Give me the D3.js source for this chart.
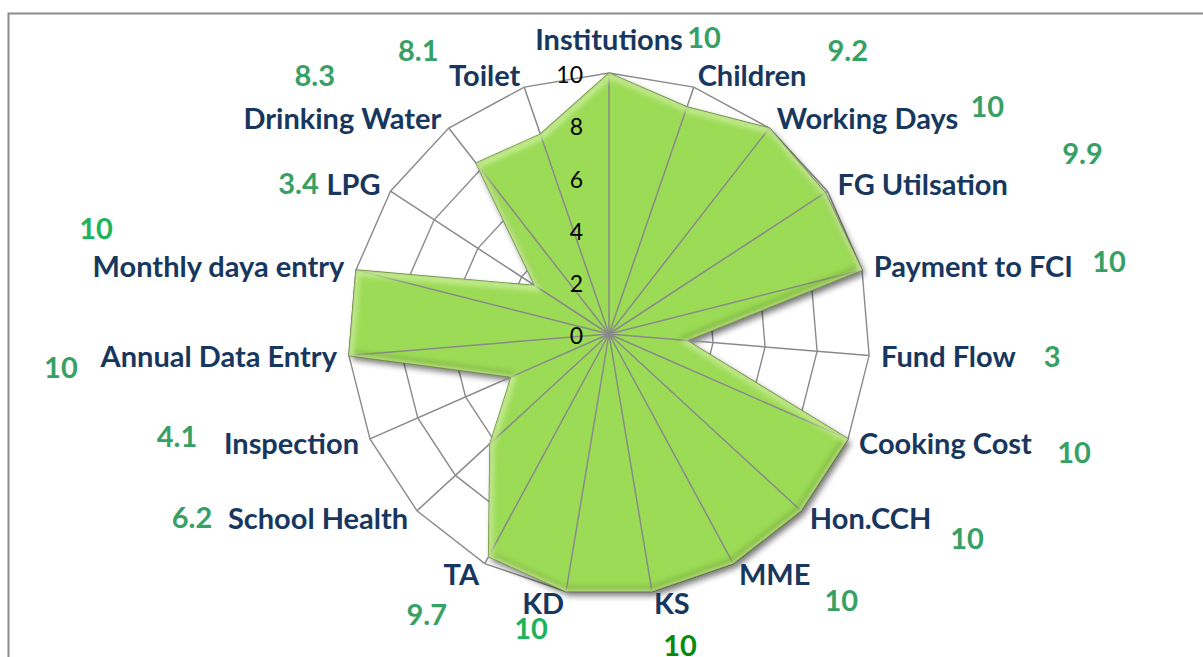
<!DOCTYPE html>
<html>
  <head>
    <meta charset="utf-8">
    <title>Radar</title>
    <script src="https://cdn.jsdelivr.net/npm/d3@7/dist/d3.min.js" charset="utf-8"></script>
    <style>
    body {margin:0; background:#fff;}
    svg text {font-family: Lato, "Open Sans", sans-serif;}
    </style>
  </head>
  <body>
    <svg id="svg1" width="1203" height="657"></svg>
    <script>
    // data
    var categories = ['Institutions', 'Children', 'Working Days', 'FG Utilsation', 'Payment to FCI',
      'Fund Flow', 'Cooking Cost', 'Hon.CCH', 'MME', 'KS', 'KD', 'TA', 'School Health',
      'Inspection', 'Annual Data Entry', 'Monthly daya entry', 'LPG', 'Drinking Water', 'Toilet'];
    var scores = [10, 9.2, 10, 9.9, 10, 3, 10, 10, 10, 10, 10, 9.7, 6.2, 4.1, 10, 10, 3.4, 8.3, 8.1];
    var tickValues = [0, 2, 4, 6, 8, 10];

    // where the value labels were dragged to (offset from the outer end of each axis)
    var valueLabelShift = [[95, -35], [154, -37], [218, -21], [255, -38], [247, -8], [183, 1], [226, 14],
      [166, 28], [108, 37], [28, 54], [-35, 37], [-58, 51], [-225, 7], [-193, -2], [-288, 12],
      [-260, -41], [-92, -8], [-134, -52], [-106, -37]];
    var valueLabelColor = ['#36a065', '#36a065', '#36a065', '#36a065', '#36a065', '#36a065', '#36a065',
      '#36a065', '#36a065', '#0a8a0a', '#1cb45a', '#36a065', '#36a065', '#36a065', '#36a065',
      '#1cb45a', '#36a065', '#36a065', '#36a065'];

    var svg = d3.select('#svg1');

    // frame
    svg.append('rect')
      .attr('x', 8.5).attr('y', 13.5)
      .attr('width', 1300).attr('height', 800)
      .attr('fill', 'none').attr('stroke', '#8c8c8c').attr('stroke-width', 2);

    var cx = 609, cy = 334, R = 261;
    var g = svg.append('g').attr('transform', 'translate(' + cx + ',' + cy + ')');

    var r = d3.scaleLinear().domain([0, 10]).range([0, R]);
    var angle = d3.scalePoint().domain(categories).range([0, 2 * Math.PI * (1 - 1 / categories.length)]);

    function pt(cat, v) {
      var a = angle(cat);
      return [r(v) * Math.sin(a), -r(v) * Math.cos(a)];
    }

    var defs = svg.append('defs');
    var f = defs.append('filter').attr('id', 'shadow')
      .attr('x', '-10%').attr('y', '-10%').attr('width', '130%').attr('height', '130%');
    f.append('feGaussianBlur').attr('in', 'SourceAlpha').attr('stdDeviation', 3).attr('result', 'b');
    f.append('feOffset').attr('in', 'b').attr('dx', 3).attr('dy', 4).attr('result', 'o');
    f.append('feComponentTransfer').attr('in', 'o').attr('result', 's')
      .append('feFuncA').attr('type', 'linear').attr('slope', 0.55);
    var m = f.append('feMerge');
    m.append('feMergeNode').attr('in', 's');
    m.append('feMergeNode').attr('in', 'SourceGraphic');

    defs.append('filter').attr('id', 'soft')
      .append('feGaussianBlur').attr('stdDeviation', 2.5);

    // rings
    var rings = tickValues.filter(function (d) { return d > 0; });
    g.selectAll('.ring').data(rings).enter().append('polygon')
      .attr('class', 'ring')
      .attr('points', function (v) {
        return categories.map(function (c) { return pt(c, v).join(','); }).join(' ');
      })
      .attr('fill', 'none').attr('stroke', '#8a8a8a').attr('stroke-width', 1.4);

    // area
    var line = d3.line().curve(d3.curveLinearClosed);
    var areaD = line(categories.map(function (c, i) { return pt(c, scores[i]); }));
    defs.append('clipPath').attr('id', 'areaClip')
      .append('path').attr('d', areaD).attr('transform', 'translate(' + cx + ',' + cy + ')');

    g.append('path')
      .attr('d', areaD)
      .attr('fill', '#9cdb57')
      .attr('filter', 'url(#shadow)');

    // bevel: light rim inside the edge, darker rim offset down
    var bev = svg.append('g').attr('clip-path', 'url(#areaClip)')
      .append('g').attr('transform', 'translate(' + cx + ',' + cy + ')');
    bev.append('path').attr('d', areaD)
      .attr('fill', 'none').attr('stroke', '#5f8a25').attr('stroke-opacity', 0.45)
      .attr('stroke-width', 7).attr('transform', 'translate(-1,-2)')
      .attr('filter', 'url(#soft)');
    bev.append('path').attr('d', areaD)
      .attr('fill', 'none').attr('stroke', '#d2f5a4').attr('stroke-opacity', 0.8)
      .attr('stroke-width', 7).attr('transform', 'translate(1,2)')
      .attr('filter', 'url(#soft)');

    g.append('path')
      .attr('d', areaD)
      .attr('fill', 'none')
      .attr('stroke', '#6f8a3a').attr('stroke-width', 1.2)
      .attr('stroke-linejoin', 'round');

    // spokes on top
    g.selectAll('.spoke').data(categories).enter().append('line')
      .attr('class', 'spoke')
      .attr('x1', 0).attr('y1', 0)
      .attr('x2', function (c) { return pt(c, 10)[0]; })
      .attr('y2', function (c) { return pt(c, 10)[1]; })
      .attr('stroke', '#8a8a8a').attr('stroke-width', 1.5);

    // tick labels
    g.selectAll('.tick').data(tickValues).enter().append('text')
      .attr('x', -26)
      .attr('y', function (v) { return -r(v) + 2; })
      .attr('dy', '0.36em')
      .attr('text-anchor', 'end')
      .attr('font-size', 23)
      .attr('fill', '#000')
      .text(function (v) { return v; });

    // category labels
    g.selectAll('.cat').data(categories).enter().append('text')
      .attr('class', 'cat')
      .each(function (c) {
        var a = angle(c), s = Math.sin(a), co = Math.cos(a);
        var p = pt(c, 10);
        var el = d3.select(this);
        if (Math.abs(s) < 0.05) {
          el.attr('x', p[0]).attr('y', p[1] - 33).attr('text-anchor', 'middle');
        } else {
          el.attr('x', p[0] + 12 * s).attr('y', p[1] - 12 * co)
            .attr('text-anchor', s > 0 ? 'start' : 'end');
        }
      })
      .attr('dy', '0.36em')
      .attr('font-size', 29).attr('font-weight', 'bold')
      .attr('fill', '#17375e')
      .text(function (c) { return c; });

    // value labels
    g.selectAll('.val').data(categories).enter().append('text')
      .attr('x', function (c, i) { return pt(c, 10)[0] + valueLabelShift[i][0]; })
      .attr('y', function (c, i) { return pt(c, 10)[1] + valueLabelShift[i][1]; })
      .attr('dy', '0.36em')
      .attr('text-anchor', 'middle')
      .attr('font-size', 29).attr('font-weight', 'bold')
      .attr('fill', function (c, i) { return valueLabelColor[i]; })
      .text(function (c, i) { return scores[i]; });
    </script>
  </body>
</html>
